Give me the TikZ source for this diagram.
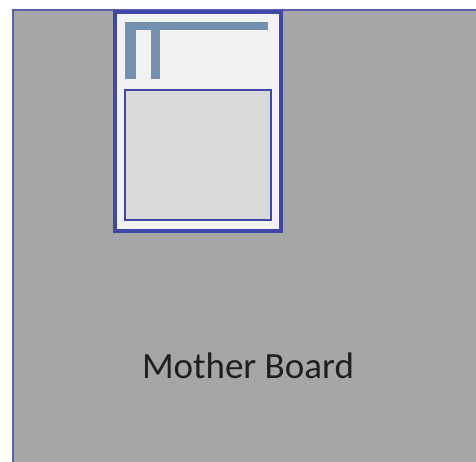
\documentclass[tikz,border=0pt]{standalone}
\usepackage{fontspec}
\setmainfont{Carlito}
\definecolor{boardgray}{HTML}{A6A6A6}
\definecolor{edgeblue}{HTML}{5B5FB0}
\definecolor{cardblue}{HTML}{3F48A8}
\definecolor{cardfill}{HTML}{F2F2F2}
\definecolor{slotfill}{HTML}{D9D9D9}
\definecolor{pinblue}{HTML}{7490B0}
\begin{document}
\begin{tikzpicture}[x=1pt,y=-1pt,
  board/.style={fill=boardgray,draw=edgeblue,line width=2.2pt},
  boardlabel/.style={font=\fontsize{37}{40}\selectfont,inner sep=0pt,text=black!88},
  card/.style={fill=cardfill,draw=cardblue,line width=4.2pt},
  slot/.style={fill=slotfill,draw=cardblue,line width=1.5pt},
  pin/.style={fill=pinblue,draw=none}]
\useasboundingbox (0,0) rectangle (476,461);
\begin{scope}
\clip (0,0) rectangle (476,461);
\draw[board] (12.8,10.3) rectangle (490,480);
\end{scope}
\node[boardlabel] (label) at (248,366) {Mother Board};
\draw[card] (114.8,11.8) rectangle (281.2,230.8);
\draw[slot] (124.8,90) rectangle (271,220);
\fill[pin] (125,22) rectangle (268,30);
\fill[pin] (125,22) rectangle (135.7,79);
\fill[pin] (151,22) rectangle (160,79);
\end{tikzpicture}
\end{document}
